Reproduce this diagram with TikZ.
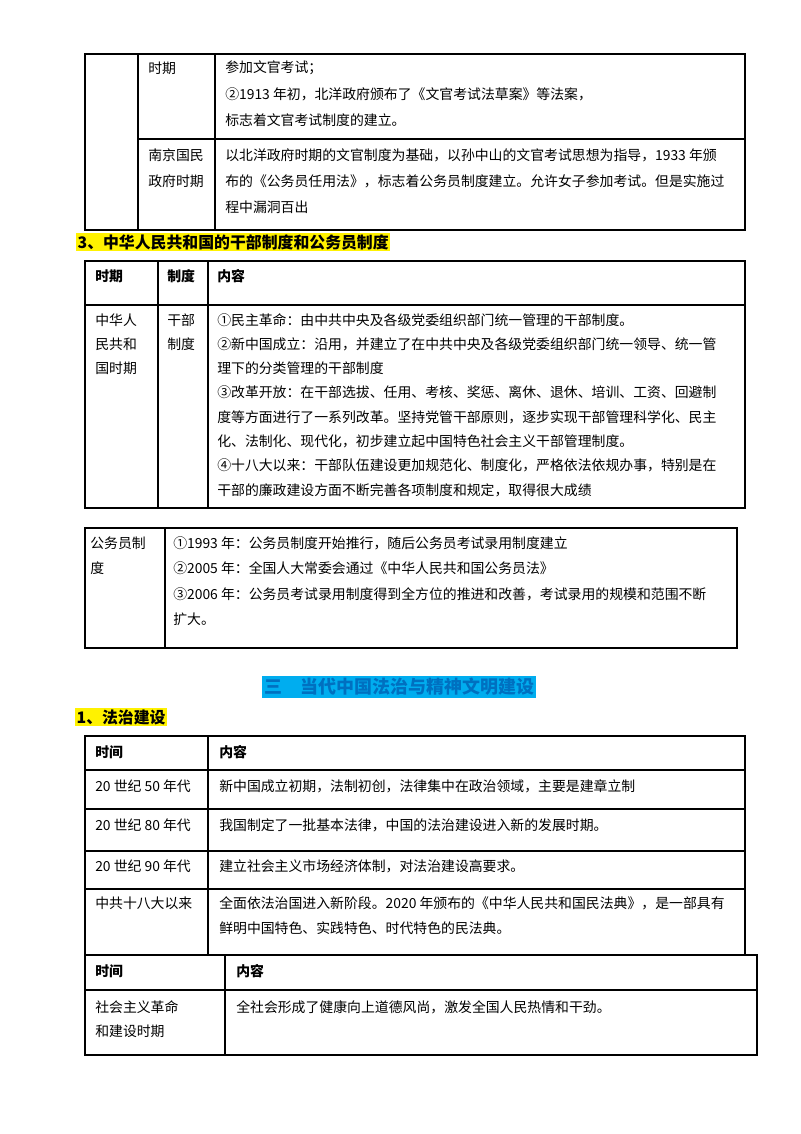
\documentclass[tikz,border=0pt]{standalone}
\usepackage{fontspec}
\setmainfont{Noto Sans CJK SC}
\begin{document}
\begin{tikzpicture}[x=0.75pt,y=-0.75pt,
  txt/.style={anchor=west,inner sep=0pt,font=\fontsize{10.4pt}{12pt}\selectfont},
  hd/.style={txt,font=\fontsize{10.4pt}{12pt}\selectfont\bfseries},
  tbl/.style={draw=black,line width=1.1pt},
  grid/.style={draw=black,line width=0.9pt}]
\useasboundingbox (0,0) rectangle (800,1134);
% table 1
\draw[tbl] (85,54) rectangle (745,230);
\draw[grid] (138,54)--(138,230) (215,54)--(215,230) (138,139)--(745,139);
\node[txt] (a1) at (148,68) {时期};
\node[txt] (a2) at (225,68) {参加文官考试；};
\node[txt] (a3) at (225,94) {②1913 年初，北洋政府颁布了《文官考试法草案》等法案，};
\node[txt] (a4) at (225,120) {标志着文官考试制度的建立。};
\node[txt] (a5) at (148,155) {南京国民};
\node[txt] (a6) at (148,181) {政府时期};
\node[txt] (a7) at (225,155) {以北洋政府时期的文官制度为基础，以孙中山的文官考试思想为指导，1933 年颁};
\node[txt] (a8) at (225,181) {布的《公务员任用法》，标志着公务员制度建立。允许女子参加考试。但是实施过};
\node[txt] (a9) at (225,207) {程中漏洞百出};
% heading 3
\node[hd,fill=yellow,inner sep=1pt,font=\fontsize{11.9pt}{13pt}\selectfont\bfseries] (h3) at (76,242) {3、中华人民共和国的干部制度和公务员制度};
% table 2
\draw[tbl] (85,261) rectangle (745,508);
\draw[grid] (158,261)--(158,508) (208,261)--(208,508) (85,305)--(745,305);
\node[hd] (b1) at (95,276) {时期};
\node[hd] (b2) at (167,276) {制度};
\node[hd] (b3) at (217,276) {内容};
\node[txt] (b4) at (95,320) {中华人};
\node[txt] (b5) at (95,344) {民共和};
\node[txt] (b6) at (95,368) {国时期};
\node[txt] (b7) at (167,320) {干部};
\node[txt] (b8) at (167,344) {制度};
\node[txt] (c1) at (217,320) {①民主革命：由中共中央及各级党委组织部门统一管理的干部制度。};
\node[txt] (c2) at (217,344) {②新中国成立：沿用，并建立了在中共中央及各级党委组织部门统一领导、统一管};
\node[txt] (c3) at (217,368) {理下的分类管理的干部制度};
\node[txt] (c4) at (217,392) {③改革开放：在干部选拔、任用、考核、奖惩、离休、退休、培训、工资、回避制};
\node[txt] (c5) at (217,417) {度等方面进行了一系列改革。坚持党管干部原则，逐步实现干部管理科学化、民主};
\node[txt] (c6) at (217,441) {化、法制化、现代化，初步建立起中国特色社会主义干部管理制度。};
\node[txt] (c7) at (217,465) {④十八大以来：干部队伍建设更加规范化、制度化，严格依法依规办事，特别是在};
\node[txt] (c8) at (217,490) {干部的廉政建设方面不断完善各项制度和规定，取得很大成绩};
% table 3
\draw[tbl] (85,528) rectangle (737,648);
\draw[grid] (165,528)--(165,648);
\node[txt] (d1) at (90,543) {公务员制};
\node[txt] (d2) at (90,568) {度};
\node[txt] (d3) at (173,543) {①1993 年：公务员制度开始推行，随后公务员考试录用制度建立};
\node[txt] (d4) at (173,568) {②2005 年：全国人大常委会通过《中华人民共和国公务员法》};
\node[txt] (d5) at (173,594) {③2006 年：公务员考试录用制度得到全方位的推进和改善，考试录用的规模和范围不断};
\node[txt] (d6) at (173,619) {扩大。};
% title
\node[hd,fill=cyan,text={rgb,255:red,0;green,112;blue,192},inner sep=1.5pt,font=\fontsize{13.5pt}{15pt}\selectfont\bfseries] (t0) at (262,687) {三\quad 当代中国法治与精神文明建设};
\node[hd,fill=yellow,inner sep=1pt,font=\fontsize{11.9pt}{13pt}\selectfont\bfseries] (h1) at (75,717) {1、法治建设};
% table 4
\draw[tbl] (85,736) rectangle (745,955);
\draw[grid] (208,736)--(208,955) (85,770)--(745,770) (85,809)--(745,809) (85,851)--(745,851) (85,889)--(745,889);
\node[hd] (e1) at (95,752) {时间};
\node[hd] (e2) at (219,752) {内容};
\node[txt] (e3) at (95,786) {20 世纪 50 年代};
\node[txt] (e4) at (219,786) {新中国成立初期，法制初创，法律集中在政治领域，主要是建章立制};
\node[txt] (e5) at (95,825) {20 世纪 80 年代};
\node[txt] (e6) at (219,825) {我国制定了一批基本法律，中国的法治建设进入新的发展时期。};
\node[txt] (e7) at (95,866) {20 世纪 90 年代};
\node[txt] (e8) at (219,866) {建立社会主义市场经济体制，对法治建设高要求。};
\node[txt] (e9) at (95,903) {中共十八大以来};
\node[txt] (e10) at (219,903) {全面依法治国进入新阶段。2020 年颁布的《中华人民共和国民法典》，是一部具有};
\node[txt] (e11) at (219,928) {鲜明中国特色、实践特色、时代特色的民法典。};
% table 5
\draw[tbl] (85,955) rectangle (757,1055);
\draw[grid] (225,955)--(225,1055) (85,990)--(757,990);
\node[hd] (f1) at (95,971) {时间};
\node[hd] (f2) at (236,971) {内容};
\node[txt] (f3) at (95,1007) {社会主义革命};
\node[txt] (f4) at (95,1031) {和建设时期};
\node[txt] (f5) at (236,1007) {全社会形成了健康向上道德风尚，激发全国人民热情和干劲。};
\end{tikzpicture}
\end{document}
